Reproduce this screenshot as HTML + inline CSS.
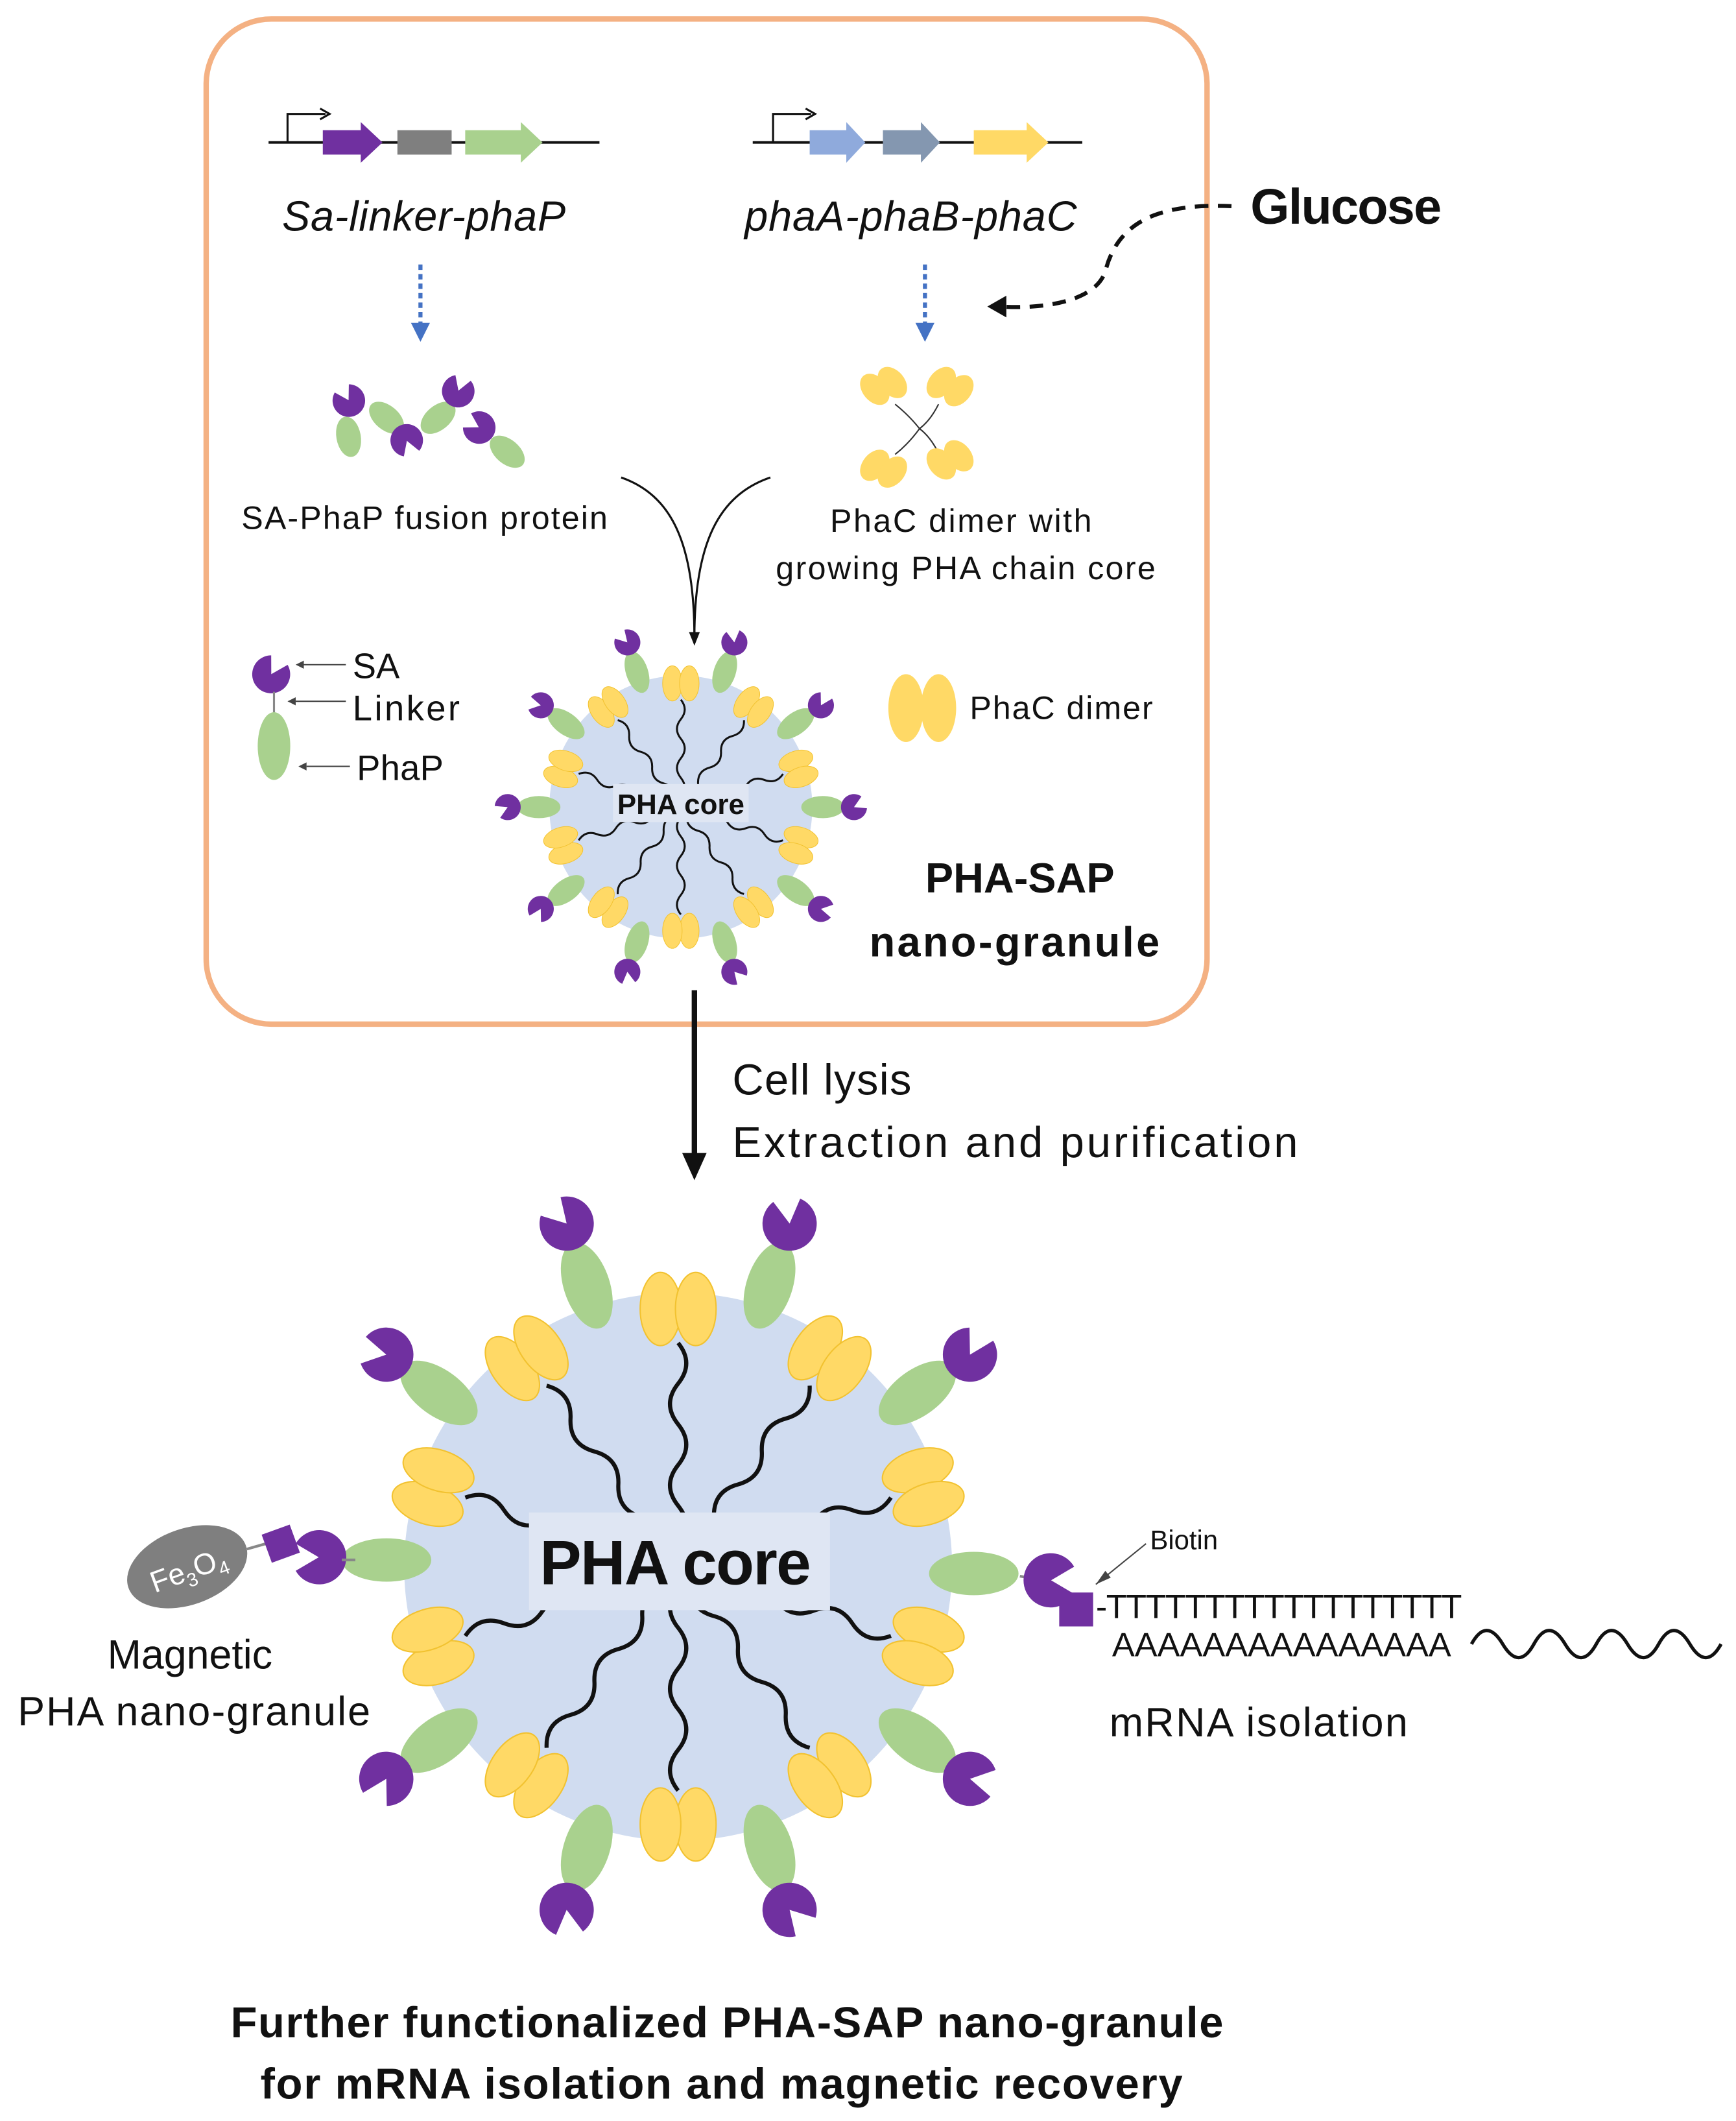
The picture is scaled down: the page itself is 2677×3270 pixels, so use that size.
<!DOCTYPE html>
<html><head><meta charset="utf-8"><style>
html,body{margin:0;padding:0;background:#fff}
svg{display:block}
text{font-family:"Liberation Sans",sans-serif;fill:#111}
</style></head><body>
<svg width="2677" height="3270" viewBox="0 0 1280 1563.6" xmlns="http://www.w3.org/2000/svg">
<defs>
<g id="spokeY">
 <path d="M0,-15 q12,-15 0,-30 t0,-30 t0,-30 t0,-30 t0,-30" fill="none" stroke="#111" stroke-width="3"/>
 <ellipse cx="-13" cy="-190" rx="15" ry="27" fill="#FFD966" stroke="#F2C230" stroke-width="1"/>
 <ellipse cx="13" cy="-190" rx="15" ry="27" fill="#FFD966" stroke="#F2C230" stroke-width="1"/>
</g>
<g id="spokeG">
 <ellipse cx="0" cy="-218" rx="17" ry="33" fill="#A9D18E"/>
 <line x1="0" y1="-249" x2="0" y2="-256" stroke="#888" stroke-width="2"/>
 <path d="M0,-266 L10,-283.3 A20,20 0 1 1 -10,-283.3 Z" fill="#7030A0" transform="rotate(-25 0 -266)"/>
</g>
<g id="gran">
 <circle cx="0" cy="0" r="202" fill="#D0DCF0"/>
 <use href="#spokeY" transform="rotate(0)"/><use href="#spokeY" transform="rotate(36)"/><use href="#spokeY" transform="rotate(72)"/><use href="#spokeY" transform="rotate(108)"/><use href="#spokeY" transform="rotate(144)"/><use href="#spokeY" transform="rotate(180)"/><use href="#spokeY" transform="rotate(216)"/><use href="#spokeY" transform="rotate(252)"/><use href="#spokeY" transform="rotate(288)"/><use href="#spokeY" transform="rotate(324)"/>
 <use href="#spokeG" transform="rotate(18)"/><use href="#spokeG" transform="rotate(54)"/><use href="#spokeG" transform="rotate(126)"/><use href="#spokeG" transform="rotate(162)"/><use href="#spokeG" transform="rotate(198)"/><use href="#spokeG" transform="rotate(234)"/><use href="#spokeG" transform="rotate(306)"/><use href="#spokeG" transform="rotate(342)"/>
</g>
<g id="granS">
 <use href="#gran"/>
 <use href="#spokeG" transform="rotate(90)"/><use href="#spokeG" transform="rotate(270)"/>
</g>
</defs>

<rect x="152" y="14" width="738" height="741" rx="48" fill="none" stroke="#F4B183" stroke-width="4"/>

<!-- gene 1 -->
<line x1="198" y1="105" x2="442" y2="105" stroke="#111" stroke-width="2"/>
<path d="M212,105 V84 H240" fill="none" stroke="#111" stroke-width="1.5"/>
<path d="M236,80 L243,84 L236,88" fill="none" stroke="#111" stroke-width="1.5"/>
<path d="M238,96 H266 V90 L282,105 L266,120 V114 H238 Z" fill="#7030A0"/>
<rect x="293" y="96" width="40" height="18" fill="#7F7F7F"/>
<path d="M343,96 H384 V90 L400,105 L384,120 V114 H343 Z" fill="#A9D18E"/>
<!-- gene 2 -->
<line x1="555" y1="105" x2="798" y2="105" stroke="#111" stroke-width="2"/>
<path d="M570,105 V84 H598" fill="none" stroke="#111" stroke-width="1.5"/>
<path d="M594,80 L601,84 L594,88" fill="none" stroke="#111" stroke-width="1.5"/>
<path d="M597,96 H624 V90 L638,105 L624,120 V114 H597 Z" fill="#8FAADC"/>
<path d="M651,96 H679 V90 L693,105 L679,120 V114 H651 Z" fill="#8497B0"/>
<path d="M718,96 H757 V90 L773,105 L757,120 V114 H718 Z" fill="#FFD966"/>

<text x="208" y="170" font-size="31" font-style="italic" textLength="209">Sa-linker-phaP</text>
<text x="549" y="170" font-size="31" font-style="italic" textLength="245">phaA-phaB-phaC</text>
<text x="922" y="165" font-size="37" font-weight="bold" textLength="141">Glucose</text>
<path d="M908,152 C860,150 825,160 815,200 C808,222 770,228 738,226" fill="none" stroke="#111" stroke-width="3" stroke-dasharray="10,7"/>
<path d="M742,218 L728,226 L742,234 Z" fill="#111"/>

<line x1="310" y1="195" x2="310" y2="240" stroke="#4472C4" stroke-width="3" stroke-dasharray="4,3"/>
<path d="M303,238 L310,252 L317,238 Z" fill="#4472C4"/>
<line x1="682" y1="195" x2="682" y2="240" stroke="#4472C4" stroke-width="3" stroke-dasharray="4,3"/>
<path d="M675,238 L682,252 L689,238 Z" fill="#4472C4"/>

<!-- fusion protein cluster -->
<g>
<ellipse cx="257" cy="322" rx="9" ry="15" fill="#A9D18E" transform="rotate(-10 257 322)"/>
<path d="M257,295 L263,285 A12,12 0 1 1 251,285 Z" fill="#7030A0" transform="rotate(-30 257 295)"/>
<ellipse cx="285" cy="308" rx="9" ry="15" fill="#A9D18E" transform="rotate(-50 285 308)"/>
<path d="M300,325 L306,315 A12,12 0 1 1 294,315 Z" fill="#7030A0" transform="rotate(160 300 325)"/>
<ellipse cx="323" cy="308" rx="9" ry="15" fill="#A9D18E" transform="rotate(50 323 308)"/>
<path d="M338,288 L344,278 A12,12 0 1 1 332,278 Z" fill="#7030A0" transform="rotate(20 338 288)"/>
<path d="M353,315 L359,305 A12,12 0 1 1 347,305 Z" fill="#7030A0" transform="rotate(-60 353 315)"/>
<ellipse cx="374" cy="333" rx="9" ry="15" fill="#A9D18E" transform="rotate(-50 374 333)"/>
</g>
<!-- PhaC dimer cluster -->
<g stroke="#333" stroke-width="1" fill="none">
<path d="M660,298 q10,8 18,18 q8,-6 14,-18"/><path d="M660,335 q10,-8 18,-19 q8,6 14,18"/>
</g>
<g fill="#FFD966">
<ellipse cx="645" cy="287" rx="9" ry="13" transform="rotate(-40 645 287)"/><ellipse cx="658" cy="282" rx="9" ry="13" transform="rotate(-40 658 282)"/>
<ellipse cx="694" cy="282" rx="9" ry="13" transform="rotate(40 694 282)"/><ellipse cx="707" cy="288" rx="9" ry="13" transform="rotate(40 707 288)"/>
<ellipse cx="645" cy="343" rx="9" ry="13" transform="rotate(40 645 343)"/><ellipse cx="658" cy="348" rx="9" ry="13" transform="rotate(40 658 348)"/>
<ellipse cx="694" cy="342" rx="9" ry="13" transform="rotate(-40 694 342)"/><ellipse cx="707" cy="336" rx="9" ry="13" transform="rotate(-40 707 336)"/>
</g>

<text x="178" y="390" font-size="24" textLength="270">SA-PhaP fusion protein</text>
<text x="612" y="392" font-size="24" textLength="193">PhaC dimer with</text>
<text x="572" y="427" font-size="24" textLength="280">growing PHA chain core</text>

<path d="M458,352 C495,365 512,400 512,470" fill="none" stroke="#111" stroke-width="1.5"/>
<path d="M568,352 C530,365 512,400 512,470" fill="none" stroke="#111" stroke-width="1.5"/>
<path d="M508,466 L512,476 L516,466 Z" fill="#111"/>

<!-- legend -->
<path d="M200,497 L207,485 A14,14 0 1 1 193,485 Z" fill="#7030A0" transform="rotate(30 200 497)"/>
<line x1="202" y1="510" x2="202" y2="526" stroke="#888" stroke-width="1.5"/>
<ellipse cx="202" cy="550" rx="12" ry="25" fill="#A9D18E"/>
<g stroke="#444" stroke-width="1"><line x1="255" y1="490" x2="224" y2="490"/><line x1="255" y1="517" x2="218" y2="517"/><line x1="258" y1="565" x2="226" y2="565"/></g>
<g fill="#444"><path d="M224,487 L218,490 L224,493Z"/><path d="M218,514 L212,517 L218,520Z"/><path d="M226,562 L220,565 L226,568Z"/></g>
<text x="260" y="500" font-size="26">SA</text>
<text x="260" y="531" font-size="26" textLength="79">Linker</text>
<text x="263" y="575" font-size="26" textLength="64">PhaP</text>
<ellipse cx="668" cy="522" rx="13" ry="25" fill="#FFD966"/><ellipse cx="692" cy="522" rx="13" ry="25" fill="#FFD966"/>
<text x="715" y="530" font-size="24" textLength="135">PhaC dimer</text>

<!-- small granule -->
<g transform="translate(502,595) scale(0.48)"><use href="#granS"/></g>
<rect x="452" y="578" width="100" height="28" fill="#DFE6F3"/>
<text x="502" y="600" font-size="21" font-weight="bold" text-anchor="middle">PHA core</text>

<text x="752" y="658" font-size="31" font-weight="bold" text-anchor="middle">PHA-SAP</text>
<text x="641" y="705" font-size="31" font-weight="bold" textLength="214">nano-granule</text>

<line x1="512" y1="730" x2="512" y2="852" stroke="#111" stroke-width="4"/>
<path d="M503,850 L512,870 L521,850 Z" fill="#111"/>
<text x="540" y="807" font-size="32" textLength="132">Cell lysis</text>
<text x="540" y="853" font-size="32" textLength="417">Extraction and purification</text>

<!-- big granule -->
<g transform="translate(500,1155)"><use href="#gran"/></g>
<!-- left (magnetic) green -->
<ellipse cx="285" cy="1150" rx="33" ry="16" fill="#A9D18E"/>
<!-- right green -->
<ellipse cx="718" cy="1160" rx="33" ry="16" fill="#A9D18E"/>
<rect x="390" y="1115" width="222" height="72" fill="#DFE6F3"/>
<text x="498" y="1168" font-size="46" font-weight="bold" text-anchor="middle" textLength="200">PHA core</text>

<!-- Fe3O4 -->
<ellipse cx="138" cy="1155" rx="46" ry="28" fill="#7F7F7F" transform="rotate(-20 138 1155)"/>
<text x="138" y="1165" font-size="22" style="fill:#fff" text-anchor="middle" transform="rotate(-20 138 1155)">Fe<tspan font-size="14" dy="5">3</tspan><tspan dy="-5">O</tspan><tspan font-size="14" dy="5">4</tspan></text>
<line x1="182" y1="1142" x2="196" y2="1138" stroke="#888" stroke-width="2"/>
<rect x="196" y="1127" width="22" height="22" fill="#7030A0" transform="rotate(-20 207 1138)"/>
<path d="M235,1148 L218,1138 A20,20 0 1 1 218,1158 Z" fill="#7030A0"/>
<line x1="252" y1="1150" x2="262" y2="1150" stroke="#888" stroke-width="2"/>
<text x="140" y="1230" font-size="30" text-anchor="middle">Magnetic</text>
<text x="13" y="1272" font-size="30" textLength="260">PHA nano-granule</text>

<!-- biotin / mRNA -->
<line x1="752" y1="1162" x2="758" y2="1163" stroke="#888" stroke-width="2"/>
<path d="M775,1165 L792,1175 A20,20 0 1 1 792,1155 Z" fill="#7030A0"/>
<rect x="781" y="1174" width="25" height="25" fill="#7030A0"/>
<line x1="845" y1="1138" x2="808" y2="1168" stroke="#444" stroke-width="1"/>
<path d="M808,1168 L815,1158 L819,1163Z" fill="#444"/>
<text x="848" y="1142" font-size="20">Biotin</text>
<text x="808" y="1193" font-size="25" textLength="270">-TTTTTTTTTTTTTTTTTT</text>
<text x="820" y="1221" font-size="25" textLength="250">AAAAAAAAAAAAAAA</text>
<path d="M1085,1212 q11,-20 23,0 t23,0 t23,0 t23,0 t23,0 t23,0 t23,0 t23,0" fill="none" stroke="#111" stroke-width="2.5"/>
<text x="818" y="1280" font-size="30" textLength="220">mRNA isolation</text>

<text x="170" y="1502" font-size="32" font-weight="bold" textLength="732">Further functionalized PHA-SAP nano-granule</text>
<text x="192" y="1547" font-size="32" font-weight="bold" textLength="680">for mRNA isolation and magnetic recovery</text>
</svg>
</body></html>
